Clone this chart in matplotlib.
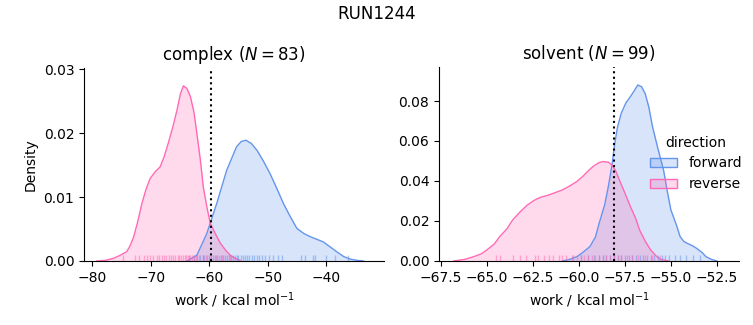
import numpy as np
import matplotlib
matplotlib.use('Agg')
import matplotlib.pyplot as plt
from matplotlib.patches import Patch
import matplotlib.transforms as mtransforms

blue = '#6495ED'
pink = '#FF69B4'

## complex leg, densities
cx_fwd_x = [-63.8, -62.1, -60.4, -58.7, -57.0, -55.3, -54.5, -53.7, -52.8, -51.8, -50.7, -49.6,
            -48.4, -47.3, -46.1, -45.0, -43.8, -42.7, -41.6, -40.5, -39.3, -38.2, -37.0, -35.9, -34.7, -33.6]
cx_fwd_y = [0.0, 0.0009, 0.0043, 0.0090, 0.0142, 0.0179, 0.0187, 0.0189, 0.0184, 0.0173, 0.0156, 0.0137,
            0.0113, 0.0090, 0.0069, 0.0051, 0.0043, 0.0038, 0.0034, 0.0030, 0.0022, 0.00146, 0.0007, 0.0003, 0.0001, 0.0]
cx_rev_x = [-79.2, -77.8, -76.4, -75.2, -74.1, -73.5, -72.9, -72.2, -71.5, -70.8, -70.1, -69.2, -68.4,
            -67.7, -67.0, -66.2, -65.5, -64.9, -64.4, -63.8, -63.2, -62.6, -62.1, -61.5, -61.0,
            -60.4, -59.8, -58.9, -58.1, -57.2, -56.4, -55.5, -54.7]
cx_rev_y = [0.0, 0.0001, 0.0004, 0.0009, 0.00146, 0.0024, 0.0038, 0.0062, 0.0090, 0.0112, 0.0129, 0.0140, 0.0147,
            0.0163, 0.0184, 0.0210, 0.0236, 0.0262, 0.0274, 0.0270, 0.0257, 0.0233, 0.0200, 0.0158, 0.0116,
            0.0085, 0.0059, 0.0042, 0.0028, 0.0017, 0.0009, 0.0004, 0.0001]
cx_fwd_rug = [-63.4, -62.6, -62.0, -61.5, -61.1, -60.8, -60.4, -60.0, -59.7, -59.3, -59.0, -58.7, -58.4,
              -58.0, -57.7, -57.3, -57.0, -56.6, -56.3, -56.0, -55.6, -55.3, -55.0, -54.6, -54.2, -53.9,
              -53.5, -53.1, -52.7, -52.3, -51.8, -51.4, -50.9, -50.4, -49.8, -49.1, -48.3, -47.5,
              -44.3, -43.6, -42.2, -41.9, -40.1, -38.5, -36.3]
cx_rev_rug = [-74.8, -72.6, -72.0, -71.2, -70.6, -70.1, -69.6, -69.0, -68.6, -68.1, -67.7, -67.3, -66.9,
              -66.5, -66.1, -65.8, -65.4, -65.1, -64.8, -64.5, -64.2, -63.9, -63.6, -63.3, -63.0,
              -62.6, -62.2, -61.7, -61.1, -60.6, -59.9, -58.9, -57.8, -56.5]
cx_dg = -59.6

## solvent leg
sv_fwd_x = [-60.9, -60.5, -60.1, -59.8, -59.4, -59.1, -58.9, -58.6, -58.4, -58.2, -58.05, -57.9, -57.7,
            -57.45, -57.2, -57.0, -56.8, -56.6, -56.4, -56.2, -56.0, -55.7, -55.4, -55.2, -55.0,
            -54.7, -54.5, -54.3, -54.1, -53.8, -53.6, -53.3, -53.1, -52.8, -52.5]
sv_fwd_y = [0.0, 0.0008, 0.0022, 0.0042, 0.0072, 0.0120, 0.0188, 0.0280, 0.0372, 0.0480, 0.0588, 0.0670, 0.0738,
            0.0790, 0.0822, 0.0850, 0.0880, 0.0872, 0.0838, 0.0770, 0.0672, 0.0560, 0.0455, 0.0350, 0.0255,
            0.0180, 0.0122, 0.0098, 0.0088, 0.0075, 0.0063, 0.0042, 0.0022, 0.0008, 0.0]
sv_rev_x = [-66.8, -66.2, -65.7, -65.3, -65.0, -64.6, -64.3, -63.9, -63.6, -63.2, -62.8, -62.4, -62.1,
            -61.7, -61.4, -60.9, -60.5, -60.1, -59.8, -59.5, -59.2, -58.9, -58.7, -58.4, -58.2, -58.0,
            -57.8, -57.5, -57.2, -56.9, -56.7, -56.4, -56.1, -55.8, -55.6, -55.3, -55.1]
sv_rev_y = [0.0, 0.0008, 0.0022, 0.0036, 0.0055, 0.0085, 0.0122, 0.0162, 0.0205, 0.0245, 0.0280, 0.0305, 0.0318,
            0.0328, 0.0338, 0.0355, 0.0375, 0.0398, 0.0422, 0.0450, 0.0475, 0.0492, 0.0497, 0.0494, 0.0480, 0.0450,
            0.0405, 0.0340, 0.0272, 0.0210, 0.0155, 0.0100, 0.0055, 0.0025, 0.0010, 0.0003, 0.0]
sv_fwd_rug = [-60.3, -59.9, -59.5, -59.2, -58.9, -58.7, -58.5, -58.3, -58.1, -57.9, -57.7, -57.5, -57.3,
              -57.1, -56.9, -56.7, -56.5, -56.3, -56.1, -55.9, -55.7, -55.5, -55.3, -55.1, -54.8, -54.5,
              -54.2, -53.8, -53.4]
sv_rev_rug = [-64.5, -64.3, -63.6, -63.2, -62.9, -62.4, -62.2, -61.9, -61.6, -61.4, -61.1, -60.9, -60.7,
              -60.4, -60.1, -59.9, -59.7, -59.5, -59.3, -59.1, -58.9, -58.7, -58.5, -58.3, -58.1, -57.9,
              -57.7, -57.4, -57.1, -56.8, -56.4, -56.0, -55.6]
sv_dg = -58.1

fig = plt.figure(figsize=(7.53, 3.25), dpi=100)
ax1 = fig.add_axes([84 / 753, 64 / 325, 300 / 753, 193 / 325])
ax2 = fig.add_axes([439 / 753, 64 / 325, 300 / 753, 194 / 325])


def draw(ax, fx, fy, rx, ry, frug, rrug, dg):
    for x, y, c in [(fx, fy, blue), (rx, ry, pink)]:
        ax.fill_between(x, y, color=c, alpha=0.25, linewidth=0)
        ax.plot(x, y, color=c, linewidth=1)
    trans = mtransforms.blended_transform_factory(ax.transData, ax.transAxes)
    ax.vlines(frug, 0, 0.03, color=blue, alpha=0.5, linewidth=1, transform=trans)
    ax.vlines(rrug, 0, 0.03, color=pink, alpha=0.5, linewidth=1, transform=trans)
    ax.axvline(dg, color='black', linestyle=':', linewidth=1.5)
    ax.spines['top'].set_visible(False)
    ax.spines['right'].set_visible(False)
    ax.set_xlabel('work / kcal mol$^{-1}$')


draw(ax1, cx_fwd_x, cx_fwd_y, cx_rev_x, cx_rev_y, cx_fwd_rug, cx_rev_rug, cx_dg)
ax1.set_xlim(-81.4, -30.1)
ax1.set_ylim(0, 0.0302)
ax1.set_yticks([0.0, 0.01, 0.02, 0.03])
ax1.set_xticks([-80, -70, -60, -50, -40])
ax1.set_ylabel('Density')
ax1.set_title('complex ($N = 83$)')

draw(ax2, sv_fwd_x, sv_fwd_y, sv_rev_x, sv_rev_y, sv_fwd_rug, sv_rev_rug, sv_dg)
ax2.set_xlim(-67.6, -51.3)
ax2.set_ylim(0, 0.097)
ax2.set_yticks([0.0, 0.02, 0.04, 0.06, 0.08])
ax2.set_xticks([-67.5, -65.0, -62.5, -60.0, -57.5, -55.0, -52.5])
ax2.set_title('solvent ($N = 99$)')

fig.suptitle('RUN1244', y=0.985)

handles = [Patch(facecolor=matplotlib.colors.to_rgba(blue, 0.25), edgecolor=blue),
           Patch(facecolor=matplotlib.colors.to_rgba(pink, 0.25), edgecolor=pink)]
fig.legend(handles, ['forward', 'reverse'], title='direction', loc='center left',
           bbox_to_anchor=(0.846, 0.497), frameon=False)

fig.savefig('out.png')
